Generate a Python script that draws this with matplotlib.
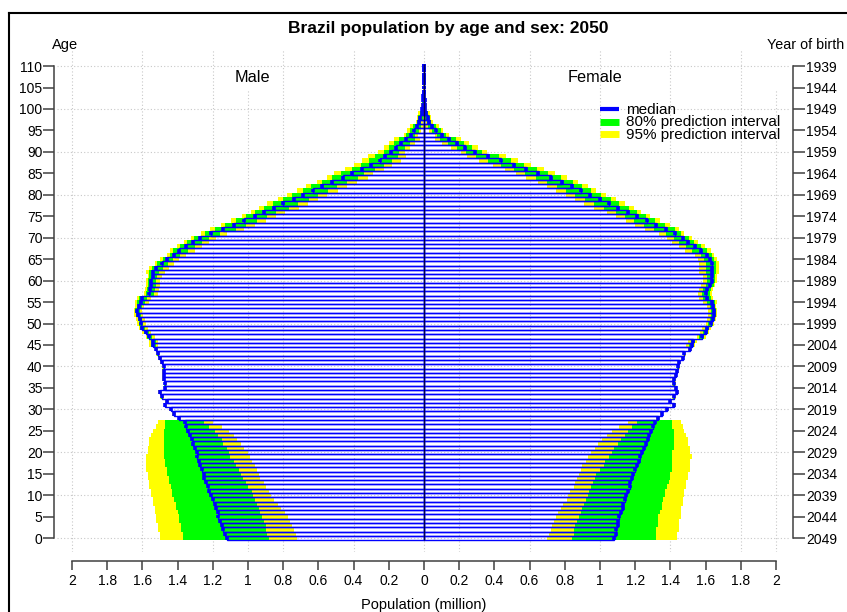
import numpy as np
import matplotlib
matplotlib.use("Agg")
import matplotlib.pyplot as plt
from matplotlib.lines import Line2D

plt.rcParams['font.family'] = ['Liberation Sans', 'DejaVu Sans']

W, H = 847, 612

# --- data (population in million, single years of age 0..110) ---
ages = np.arange(0, 111)

male_median = [
    1.12, 1.13, 1.14, 1.15, 1.16, 1.17, 1.17, 1.18, 1.19, 1.20,
    1.21, 1.22, 1.23, 1.24, 1.25, 1.25, 1.26, 1.27, 1.28, 1.29,
    1.29, 1.30, 1.31, 1.32, 1.33, 1.34, 1.35, 1.36, 1.39, 1.42,
    1.44, 1.47, 1.46, 1.49, 1.50, 1.47, 1.47, 1.48, 1.48, 1.48,
    1.48, 1.49, 1.50, 1.51, 1.52, 1.54, 1.54, 1.56, 1.58, 1.60,
    1.61, 1.615, 1.625, 1.63, 1.62, 1.61, 1.60, 1.56, 1.555, 1.55,
    1.55, 1.54, 1.54, 1.52, 1.49, 1.46, 1.42, 1.39, 1.35, 1.31,
    1.27, 1.21, 1.14, 1.08, 1.02, 0.96, 0.91, 0.85, 0.80, 0.74,
    0.69, 0.63, 0.58, 0.52, 0.46, 0.41, 0.35, 0.30, 0.25, 0.22,
    0.19, 0.16, 0.13, 0.10, 0.075, 0.055, 0.04, 0.028, 0.02, 0.013,
    0.009, 0.006, 0.004, 0.003, 0.002, 0.001, 0.0006, 0.0004, 0.0002, 0.0001, 0.0,
]

female_median = [
    1.08, 1.09, 1.09, 1.10, 1.10, 1.11, 1.12, 1.13, 1.13, 1.14,
    1.15, 1.16, 1.17, 1.17, 1.18, 1.19, 1.20, 1.21, 1.22, 1.23,
    1.24, 1.25, 1.26, 1.27, 1.28, 1.29, 1.30, 1.31, 1.33, 1.35,
    1.38, 1.42, 1.40, 1.42, 1.44, 1.43, 1.42, 1.42, 1.43, 1.44,
    1.445, 1.45, 1.47, 1.48, 1.51, 1.52, 1.53, 1.58, 1.60, 1.61,
    1.63, 1.64, 1.645, 1.645, 1.64, 1.635, 1.61, 1.605, 1.61, 1.625,
    1.635, 1.635, 1.635, 1.635, 1.635, 1.625, 1.61, 1.575, 1.54, 1.50,
    1.47, 1.425, 1.375, 1.32, 1.265, 1.21, 1.16, 1.105, 1.05, 1.00,
    0.945, 0.89, 0.84, 0.785, 0.72, 0.645, 0.58, 0.51, 0.435, 0.365,
    0.29, 0.235, 0.185, 0.14, 0.10, 0.07, 0.045, 0.03, 0.02, 0.013,
    0.008, 0.005, 0.003, 0.002, 0.001, 0.0008, 0.0005, 0.0003, 0.0002, 0.0001, 0.0,
]

# ages 0-27 (born after the base year): wide prediction intervals
male_lo95_young = [0.72, 0.73, 0.74, 0.75, 0.76, 0.77, 0.79, 0.81, 0.83, 0.85,
                   0.87, 0.88, 0.90, 0.91, 0.93, 0.94, 0.95, 0.96, 0.98, 0.99,
                   1.00, 1.02, 1.04, 1.06, 1.08, 1.11, 1.15, 1.20]
male_lo80_young = [0.88, 0.89, 0.90, 0.90, 0.91, 0.92, 0.93, 0.94, 0.95, 0.96,
                   0.97, 0.98, 1.00, 1.01, 1.03, 1.04, 1.05, 1.07, 1.08, 1.10,
                   1.11, 1.12, 1.14, 1.15, 1.17, 1.19, 1.22, 1.25]
male_hi80_young = [1.37, 1.37, 1.38, 1.38, 1.39, 1.39, 1.40, 1.41, 1.41, 1.42,
                   1.43, 1.43, 1.44, 1.45, 1.45, 1.46, 1.46, 1.47, 1.47, 1.48,
                   1.48, 1.48, 1.48, 1.48, 1.48, 1.48, 1.47, 1.47]
male_hi95_young = [1.50, 1.50, 1.51, 1.51, 1.52, 1.52, 1.53, 1.53, 1.54, 1.54,
                   1.55, 1.55, 1.56, 1.56, 1.57, 1.57, 1.58, 1.58, 1.58, 1.58,
                   1.57, 1.57, 1.56, 1.56, 1.55, 1.54, 1.52, 1.51]

female_lo95_young = [0.70, 0.71, 0.72, 0.73, 0.74, 0.75, 0.76, 0.78, 0.79, 0.81,
                     0.82, 0.83, 0.85, 0.86, 0.87, 0.88, 0.89, 0.90, 0.92, 0.93,
                     0.95, 0.97, 0.99, 1.01, 1.04, 1.07, 1.11, 1.16]
female_lo80_young = [0.84, 0.85, 0.85, 0.86, 0.87, 0.88, 0.89, 0.90, 0.91, 0.92,
                     0.93, 0.94, 0.95, 0.96, 0.97, 0.98, 1.00, 1.02, 1.03, 1.05,
                     1.07, 1.08, 1.10, 1.12, 1.14, 1.16, 1.18, 1.21]
female_hi80_young = [1.32, 1.32, 1.32, 1.33, 1.33, 1.33, 1.34, 1.35, 1.35, 1.36,
                     1.37, 1.37, 1.38, 1.39, 1.40, 1.40, 1.41, 1.41, 1.41, 1.41,
                     1.41, 1.42, 1.42, 1.42, 1.42, 1.42, 1.41, 1.41]
female_hi95_young = [1.44, 1.44, 1.45, 1.45, 1.45, 1.46, 1.46, 1.46, 1.47, 1.47,
                     1.48, 1.48, 1.49, 1.49, 1.50, 1.50, 1.51, 1.51, 1.51, 1.52,
                     1.51, 1.51, 1.50, 1.50, 1.49, 1.48, 1.47, 1.46]

# ages 28+: distance of the interval bounds from the median, by age band
band_start = [28, 45, 55, 62, 67, 72, 77, 85, 90, 94, 97, 100, 104]
band_lo95 = [0.01, 0.03, 0.05, 0.07, 0.09, 0.12, 0.14, 0.12, 0.08, 0.04, 0.02, 0.01, 0.0]
band_lo80 = [0.005, 0.015, 0.025, 0.035, 0.05, 0.07, 0.085, 0.07, 0.05, 0.025, 0.012, 0.005, 0.0]
band_hi80 = [0.005, 0.012, 0.02, 0.025, 0.035, 0.05, 0.06, 0.06, 0.04, 0.025, 0.012, 0.006, 0.001]
band_hi95 = [0.01, 0.02, 0.03, 0.04, 0.055, 0.075, 0.09, 0.10, 0.07, 0.04, 0.02, 0.01, 0.002]

x_ticks = [-2, -1.8, -1.6, -1.4, -1.2, -1, -0.8, -0.6, -0.4, -0.2, 0,
           0.2, 0.4, 0.6, 0.8, 1, 1.2, 1.4, 1.6, 1.8, 2]
x_ticklabels = ['2', '1.8', '1.6', '1.4', '1.2', '1', '0.8', '0.6', '0.4', '0.2', '0',
                '0.2', '0.4', '0.6', '0.8', '1', '1.2', '1.4', '1.6', '1.8', '2']
age_ticks = [0, 5, 10, 15, 20, 25, 30, 35, 40, 45, 50, 55,
             60, 65, 70, 75, 80, 85, 90, 95, 100, 105, 110]
birth_labels = ['2049', '2044', '2039', '2034', '2029', '2024', '2019', '2014',
                '2009', '2004', '1999', '1994', '1989', '1984', '1979', '1974',
                '1969', '1964', '1959', '1954', '1949', '1944', '1939']
grid_x = [-2, -1.6, -1.2, -0.8, -0.4, 0, 0.2, 0.6, 1.0, 1.4, 1.8]
grid_x_short = [-1.0, 2.0]
grid_age = [0, 10, 20, 30, 40, 50, 60, 70, 80, 90, 100, 110]

BLUE = '#0000FF'
GREEN = '#00FF00'
YELLOW = '#FFFF00'
GRIDC = '#C8C8C8'
AXC = '#404040'


def intervals(median, young):
    med = np.asarray(median, dtype=float)
    band = np.clip(np.searchsorted(band_start, ages, side='right') - 1, 0, None)
    out = []
    for yv, offs, sign in zip(young, (band_lo95, band_lo80, band_hi80, band_hi95),
                              (-1, -1, 1, 1)):
        vals = med + sign * np.asarray(offs)[band]
        vals[:len(yv)] = yv
        out.append(np.clip(vals, 0, None))
    return med, out


def draw_side(ax, s, med, bounds):
    lo95, lo80, hi80, hi95 = bounds
    ax.barh(ages, s * (hi95 - lo95), left=s * lo95, height=1.0,
            color=YELLOW, linewidth=0, zorder=2)
    ax.barh(ages, s * (hi80 - lo80), left=s * lo80, height=1.0,
            color=GREEN, linewidth=0, zorder=3)
    ax.barh(ages, s * med, height=1.0, facecolor='none', edgecolor=BLUE,
            linewidth=1.0, zorder=4)
    ax.vlines(s * med, ages - 0.45, ages + 0.45, color=BLUE, linewidth=2.6, zorder=5)


fig = plt.figure(figsize=(W / 100, H / 100), dpi=100)
left_px, right_px, top_px, bot_px = 57, 790, 50, 552
ax = fig.add_axes([left_px / W, 1 - bot_px / H,
                   (right_px - left_px) / W, (bot_px - top_px) / H])
ppu = 176.0   # pixels per million
ppy = 4.29    # pixels per year of age
ax.set_xlim((left_px - 424) / ppu, (right_px - 424) / ppu)
ylo = -(bot_px - 538) / ppy
yhi = (538 - top_px) / ppy
ax.set_ylim(ylo, yhi)

# grid
ax.hlines(grid_age, *ax.get_xlim(), colors=GRIDC, linestyles=(0, (1, 2)), linewidth=0.8, zorder=0)
ax.vlines(grid_x, ylo, yhi, colors=GRIDC, linestyles=(0, (1, 2)), linewidth=0.8, zorder=0)
ax.vlines(grid_x_short, ylo, (538 - 89) / ppy, colors=GRIDC, linestyles=(0, (1, 2)),
          linewidth=0.8, zorder=0)

m_med, m_bounds = intervals(male_median, (male_lo95_young, male_lo80_young,
                                          male_hi80_young, male_hi95_young))
f_med, f_bounds = intervals(female_median, (female_lo95_young, female_lo80_young,
                                            female_hi80_young, female_hi95_young))
draw_side(ax, -1, m_med, m_bounds)
draw_side(ax, 1, f_med, f_bounds)
ax.vlines(0, -0.5, 110.5, color='#000050', linewidth=1.0, zorder=6)

# axes
ax.spines['top'].set_visible(False)
ax.spines['right'].set_visible(False)
for sp in ('left', 'bottom'):
    ax.spines[sp].set_color(AXC)
    ax.spines[sp].set_linewidth(1.1)
ax.spines['left'].set_position(('outward', 2))
ax.spines['left'].set_bounds(0, 110)
ax.spines['bottom'].set_position(('outward', 6.5))
ax.spines['bottom'].set_bounds(-2, 2)
ax.set_xticks(x_ticks)
ax.set_xticklabels(x_ticklabels)
ax.set_yticks(age_ticks)
ax.set_yticklabels([str(a) for a in age_ticks])
ax.tick_params(axis='x', length=6.5, width=1.1, color=AXC, pad=3, labelsize=10)
ax.tick_params(axis='y', length=8, width=1.1, color=AXC, pad=0.5, labelsize=10)

ax2 = ax.twinx()
ax2.set_ylim(ylo, yhi)
for sp in ('top', 'left', 'bottom'):
    ax2.spines[sp].set_visible(False)
ax2.spines['right'].set_color(AXC)
ax2.spines['right'].set_linewidth(1.1)
ax2.spines['right'].set_position(('outward', 2.4))
ax2.spines['right'].set_bounds(0, 110)
ax2.set_yticks(age_ticks)
ax2.set_yticklabels(birth_labels)
ax2.tick_params(axis='y', length=8.5, width=1.1, color=AXC, pad=0.5, labelsize=10)


def fx(x):
    return x / W


def fy(y):
    return 1 - y / H


fig.text(fx(448), fy(29), 'Brazil population by age and sex: 2050',
         ha='center', va='center', fontsize=12.5, fontweight='bold')
fig.text(fx(65.5), fy(45), 'Age', ha='center', va='center', fontsize=10.5)
# reference clips this label at the figure edge; keep it whole by ending just inside
fig.text(fx(844), fy(45), 'Year of birth', ha='right', va='center', fontsize=10.3)
fig.text(fx(252.5), fy(78), 'Male', ha='center', va='center', fontsize=11.7)
fig.text(fx(595), fy(78), 'Female', ha='center', va='center', fontsize=11.7)
fig.text(fx(424), fy(605), 'Population (million)', ha='center', va='center', fontsize=10.5)

# legend
legend_items = [('median', BLUE, 3.0, 109), ('80% prediction interval', GREEN, 5.0, 121.5),
                ('95% prediction interval', YELLOW, 5.0, 134)]
for label, col, lw, ypx in legend_items:
    fig.add_artist(Line2D([fx(600), fx(619)], [fy(ypx), fy(ypx)], color=col,
                          linewidth=lw, solid_capstyle='butt'))
    fig.text(fx(626), fy(ypx + 4.5), label, ha='left', va='baseline', fontsize=11)

# outer frame
fig.add_artist(Line2D([fx(9.3), fx(9.3)], [0, fy(13.3)], color='black', linewidth=1.5))
fig.add_artist(Line2D([fx(9.3), 1], [fy(13.3), fy(13.3)], color='black', linewidth=1.5))

fig.savefig('out.png', dpi=100)
